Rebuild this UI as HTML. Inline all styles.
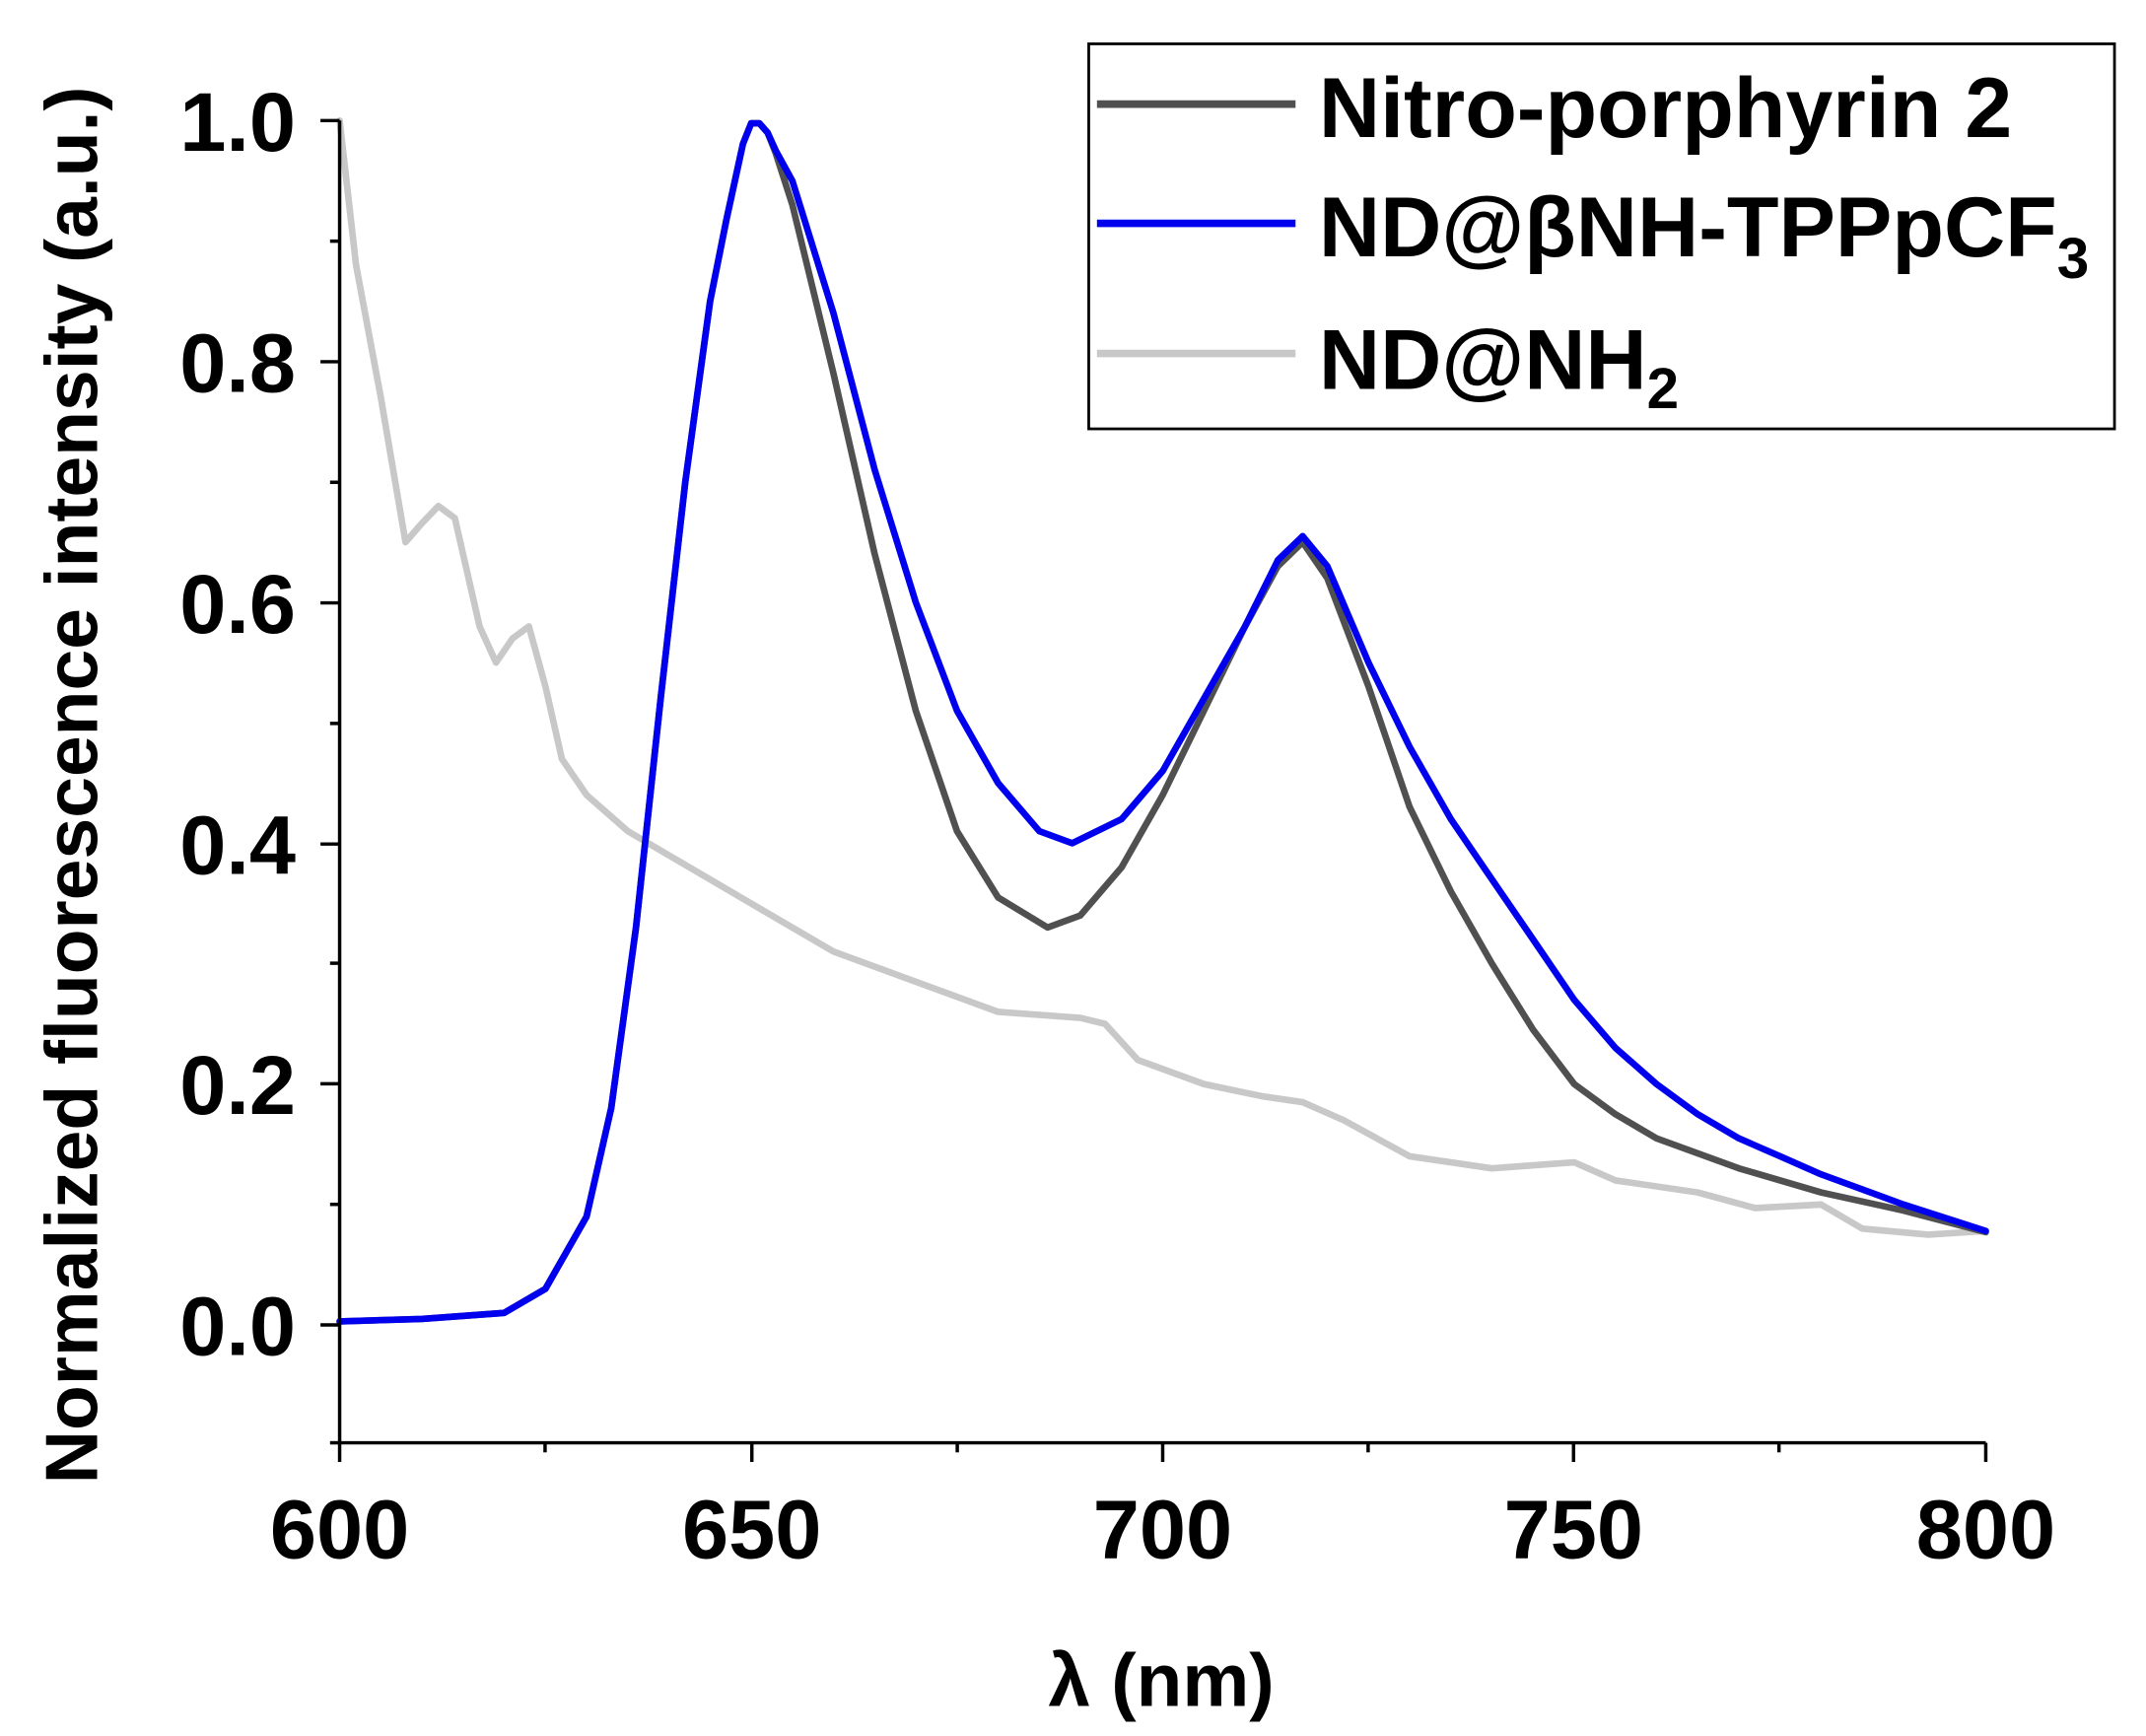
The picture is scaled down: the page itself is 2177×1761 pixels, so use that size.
<!DOCTYPE html>
<html><head><meta charset="utf-8"><style>html,body{margin:0;padding:0;background:#fff}svg{display:block}</style></head>
<body>
<svg width="2177" height="1761" viewBox="-1 0 1567 1267" preserveAspectRatio="none" xmlns="http://www.w3.org/2000/svg" font-family="Liberation Sans, sans-serif" font-weight="bold">
<rect x="-1" width="1567" height="1267" fill="#fff"/>
<g fill="none" stroke-linejoin="round" stroke-linecap="round" stroke-width="4.8">
<polyline stroke="#c8c8c8" points="247,88 259,193.5 277.1,290.2 295.1,395.7 307,382 319.1,369.3 331.1,378.1 349.2,457.2 361.2,483.6 373.2,466 385.2,457.2 397.3,501.1 409.3,553.9 427.3,580.2 457.4,606.6 487.4,624.2 547.5,659.4 607.6,694.5 667.7,716.5 727.8,738.5 787.9,742.9 805.9,747.3 829.9,773.6 878.1,791.2 920.1,800 950.2,804.4 980.2,817.6 1028.3,843.9 1088.4,852.7 1148.5,848.3 1178.6,861.5 1238.7,870.3 1280.7,881.7 1328.8,879.1 1358.9,896.7 1406.9,901.1 1449,898.4"/>
<polyline stroke="#505050" points="247,964.4 307.1,962.6 367.2,958.2 397.3,940.6 427.3,887.9 445.3,808.8 463.4,676.9 481.4,509.9 499.4,351.7 517.5,219.9 529.5,160 541.5,105 547.5,90 553.5,90 559.5,96.8 565.5,112 577.6,149.5 607.6,272.6 637.7,404.4 667.7,518.7 697.8,606.6 727.8,655 763.9,676.9 787.9,668.1 818,633 848,580.2 878.1,518.7 908.1,457.2 932.1,413.2 950.2,395.7 968.2,422 998.3,501.1 1028.3,589 1058.4,650.6 1088.4,703.3 1118.5,751.6 1148.5,791.2 1178.6,813.2 1208.6,830.8 1268.7,852.7 1328.8,870.3 1388.9,883.5 1449,899.3"/>
<polyline stroke="#0000ee" points="247,964.4 307.1,962.6 367.2,958.2 397.3,940.6 427.3,887.9 445.3,808.8 463.4,676.9 481.4,509.9 499.4,351.7 517.5,219.9 529.5,160 541.5,105 547.5,90 553.5,90 559.5,96.8 565.5,110 577.6,132 607.6,228.6 637.7,342.9 667.7,439.6 697.8,518.7 727.8,571.5 757.9,606.6 781.9,615.4 818,597.8 848,562.7 878.1,509.9 908.1,457.2 932.1,408.8 950.2,391.3 968.2,413.2 998.3,483.6 1028.3,545.1 1058.4,597.8 1088.4,641.8 1118.5,685.7 1148.5,729.7 1178.6,764.8 1208.6,791.2 1238.7,813.2 1268.7,830.8 1298.8,843.9 1328.8,857.1 1388.9,879.1 1449,898.4"/>
</g>
<g stroke="#000" stroke-width="2.5" fill="none">
<line x1="247" y1="88" x2="247" y2="1053"/>
<line x1="247" y1="1053" x2="1449" y2="1053"/>
<line x1="233" y1="88" x2="247" y2="88"/><line x1="233" y1="264" x2="247" y2="264"/><line x1="233" y1="440" x2="247" y2="440"/><line x1="233" y1="616" x2="247" y2="616"/><line x1="233" y1="791" x2="247" y2="791"/><line x1="233" y1="967" x2="247" y2="967"/>
<line x1="240" y1="176" x2="247" y2="176"/><line x1="240" y1="352" x2="247" y2="352"/><line x1="240" y1="528" x2="247" y2="528"/><line x1="240" y1="703" x2="247" y2="703"/><line x1="240" y1="879" x2="247" y2="879"/><line x1="240" y1="1053" x2="247" y2="1053"/>
<line x1="247" y1="1053" x2="247" y2="1067"/><line x1="548" y1="1053" x2="548" y2="1067"/><line x1="848" y1="1053" x2="848" y2="1067"/><line x1="1148" y1="1053" x2="1148" y2="1067"/><line x1="1449" y1="1053" x2="1449" y2="1067"/>
<line x1="397" y1="1053" x2="397" y2="1060"/><line x1="698" y1="1053" x2="698" y2="1060"/><line x1="998" y1="1053" x2="998" y2="1060"/><line x1="1298" y1="1053" x2="1298" y2="1060"/>
</g>
<g font-size="61" fill="#000" text-anchor="end">
<text x="215" y="110">1.0</text><text x="215" y="286">0.8</text><text x="215" y="462">0.6</text><text x="215" y="638">0.4</text><text x="215" y="813">0.2</text><text x="215" y="989">0.0</text>
</g>
<g font-size="61" fill="#000" text-anchor="middle">
<text x="247" y="1137">600</text><text x="548" y="1137">650</text><text x="848" y="1137">700</text><text x="1148" y="1137">750</text><text x="1449" y="1137">800</text>
<text x="847" y="1245" font-size="55">λ (nm)</text>
<text transform="translate(70,573) rotate(-90)" font-size="54">Normalized fluorescence intensity (a.u.)</text>
</g>
<rect x="794" y="32" width="749" height="281" fill="#fff" stroke="#000" stroke-width="2"/>
<g stroke-width="5.5"><line x1="800" y1="76" x2="945" y2="76" stroke="#505050"/><line x1="800" y1="163" x2="945" y2="163" stroke="#0000ee"/><line x1="800" y1="258" x2="945" y2="258" stroke="#c8c8c8"/></g>
<g font-size="62" fill="#000">
<text x="962" y="100">Nitro-porphyrin 2</text>
<text x="962" y="187">ND@βNH-TPPpCF<tspan font-size="42" dy="16">3</tspan></text>
<text x="962" y="284">ND@NH<tspan font-size="42" dy="14">2</tspan></text>
</g>
</svg>
</body></html>
